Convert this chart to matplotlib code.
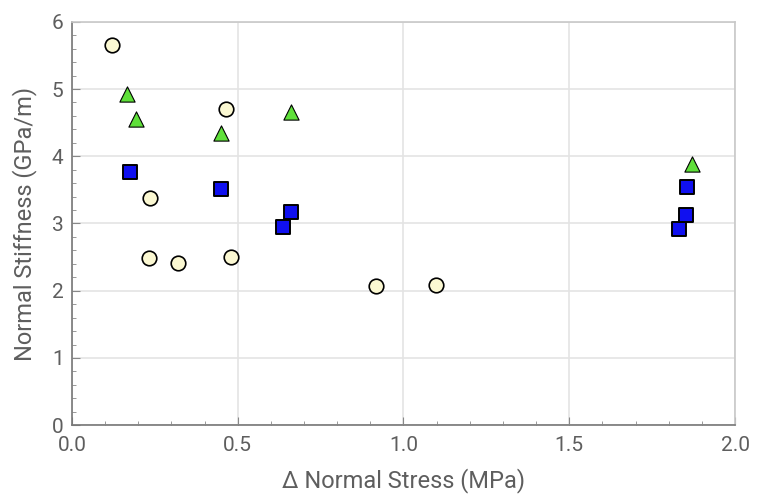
import matplotlib
matplotlib.use('Agg')
import matplotlib.pyplot as plt
from matplotlib.ticker import MultipleLocator, FormatStrFormatter

plt.rcParams['font.family'] = ['Roboto', 'DejaVu Sans']

# readings
circle_x = [0.12, 0.232, 0.235, 0.32, 0.465, 0.48, 0.916, 1.097]
circle_y = [5.65, 2.49, 3.38, 2.41, 4.70, 2.50, 2.07, 2.09]

tri_x = [0.166, 0.193, 0.45, 0.66, 1.87]
tri_y = [4.92, 4.56, 4.34, 4.66, 3.88]

sq_x = [0.175, 0.45, 0.637, 0.66, 1.83, 1.852, 1.855]
sq_y = [3.77, 3.51, 2.95, 3.17, 2.92, 3.13, 3.54]

grey = '#5e5e5e'

fig = plt.figure(figsize=(7.57, 4.95), dpi=100)
ax = fig.add_axes([0.095, 0.141, 0.876, 0.815])

ax.scatter(circle_x, circle_y, marker='o', s=110, facecolor='#fbf8d2',
           edgecolor='black', linewidth=1.2, zorder=3)
ax.scatter(tri_x, tri_y, marker='^', s=120, facecolor='#5fe03a',
           edgecolor='black', linewidth=0.8, zorder=3)
ax.scatter(sq_x, sq_y, marker='s', s=110, facecolor='#1010f0',
           edgecolor='black', linewidth=1.4, zorder=3)

ax.set_xlim(0, 2.0)
ax.set_ylim(0, 6)
ax.xaxis.set_major_locator(MultipleLocator(0.5))
ax.xaxis.set_minor_locator(MultipleLocator(0.1))
ax.yaxis.set_major_locator(MultipleLocator(1))
ax.yaxis.set_minor_locator(MultipleLocator(0.2))
ax.xaxis.set_major_formatter(FormatStrFormatter('%.1f'))

ax.grid(True, which='major', color='#e4e4e4', linewidth=1.2, zorder=0)
ax.set_axisbelow(True)
for side in ['left', 'bottom']:
    ax.spines[side].set_color('#777777')
    ax.spines[side].set_linewidth(1.2)
for side in ['top', 'right']:
    ax.spines[side].set_color('#c8c8c8')
    ax.spines[side].set_linewidth(1.2)

ax.tick_params(which='both', direction='in', colors='#888888',
               top=False, right=False, labelcolor=grey, labelsize=15)
ax.tick_params(which='major', length=6)
ax.tick_params(which='minor', length=3)
ax.tick_params(axis='x', pad=8)
ax.tick_params(axis='y', pad=6)

ax.set_xlabel('Δ Normal Stress (MPa)', fontsize=17, color=grey, labelpad=9)
ax.set_ylabel('Normal Stiffness (GPa/m)', fontsize=17, color=grey, labelpad=11)

fig.savefig('out.png', dpi=100)
